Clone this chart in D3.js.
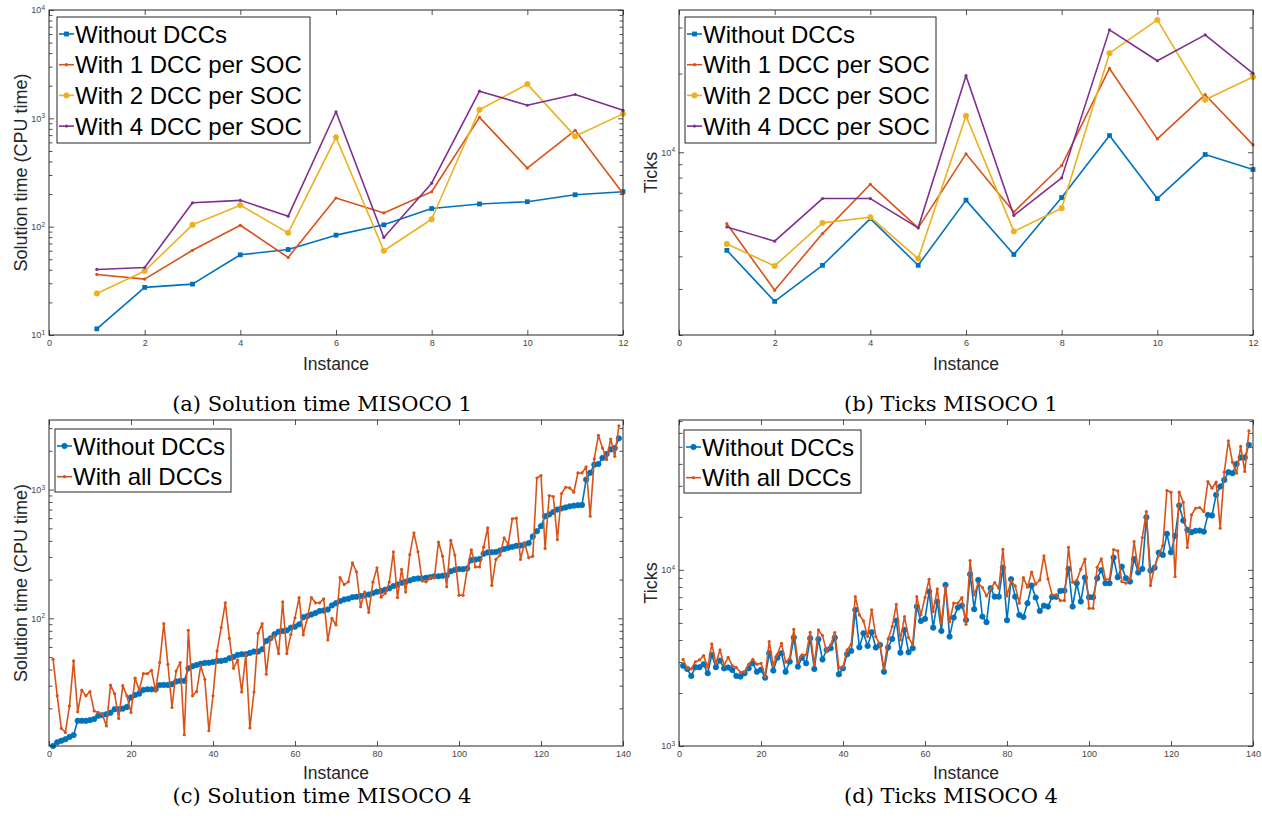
<!DOCTYPE html>
<html>
<head>
<meta charset="utf-8">
<script src="https://cdn.jsdelivr.net/npm/d3@7"></script>
<style>
    body { margin: 0; background: #fff; }
    svg { display: block; }
</style>
</head>
<body>
<script>

// instances of MISOCO 1 and MISOCO 4
var instancesM1 = [1, 2, 3, 4, 5, 6, 7, 8, 9, 10, 11, 12];
var instancesM4 = d3.range(1, 140);

// (a) solution time, MISOCO 1
var timeM1Without = [11.4, 27.5, 29.5, 55, 61.5, 83.5, 104, 147, 162, 170, 197, 210];
var timeM1One = [36.2, 32.8, 60.5, 103, 52, 184, 134, 210, 1020, 347, 775, 202];
var timeM1Two = [24.2, 39, 104, 158, 87.7, 668, 59.9, 117, 1200, 2070, 682, 1100];
var timeM1Four = [40.3, 42, 166, 175, 125, 1150, 79.5, 252, 1780, 1320, 1660, 1185];

// (b) ticks, MISOCO 1
var ticksM1Without = [4215, 2690, 3695, 5570, 3695, 6560, 4065, 6710, 11580, 6650, 9800, 8590];
var ticksM1One = [5330, 2965, 4885, 7540, 5140, 9860, 5905, 8895, 20920, 11250, 16600, 10670];
var ticksM1Two = [4460, 3675, 5370, 5645, 3920, 13780, 4980, 6110, 23930, 32060, 15880, 19400];
var ticksM1Four = [5180, 4570, 6650, 6650, 5140, 19630, 5730, 7980, 29380, 22390, 28120, 20050];

// (c) solution time, MISOCO 4
var timeM4Without = [
    10.2, 10.9, 11.2, 11.5, 12.0, 12.4, 16.0, 16.0, 16.0, 16.2,
    16.5, 17.5, 17.7, 18.0, 18.5, 19.7, 19.7, 19.9, 20.5, 24.3,
    25.4, 26.0, 27.8, 28.1, 28.1, 28.1, 30.3, 30.4, 30.4, 30.8,
    32.3, 32.7, 32.7, 40.9, 42.4, 43.4, 44.4, 45.0, 45.2, 45.8,
    46.7, 46.7, 47.3, 49.0, 50.2, 52.0, 52.6, 52.6, 53.9, 55.2,
    55.2, 57.5, 66.7, 69.9, 75.2, 78.8, 79.7, 80.6, 84.6, 86.2,
    89.8, 102, 104, 107, 110, 114, 115, 117, 126, 131,
    136, 140, 142, 146, 147, 149, 151, 153, 157, 161,
    163, 167, 171, 178, 183, 189, 192, 197, 202, 204,
    204, 207, 209, 212, 212, 214, 215, 232, 238, 241,
    241, 244, 283, 286, 289, 317, 325, 326, 328, 336,
    345, 353, 359, 366, 368, 374, 384, 432, 475, 520,
    620, 640, 670, 700, 714, 726, 741, 750, 755, 759,
    1195, 1350, 1560, 1580, 1760, 1890, 2050, 2100, 2500
];
var timeM4All = [
    48.1, 25.0, 14.0, 13.0, 20.9, 46.7, 18.8, 27.7, 25.0, 27.0,
    19.1, 18.6, 18.0, 14.6, 30.3, 26.0, 16.7, 30.0, 25.0, 18.6,
    34.3, 27.7, 37.2, 37.2, 39.5, 27.3, 45.3, 90.9, 44.0, 20.3,
    39.0, 45.3, 12.5, 80.8, 25.0, 27.0, 42.7, 33.6, 13.4, 25.0,
    55.8, 84.7, 132, 70, 40.9, 47.3, 26.8, 52.0, 14.1, 26.8,
    76.5, 90.9, 36.8, 70, 73, 53.3, 134, 53.3, 75, 101,
    145, 74.3, 101, 145, 132, 132, 142, 67.9, 100, 88.8,
    207, 183, 192, 270, 230, 123, 160, 111, 191, 247,
    146, 156, 191, 329, 145, 240, 160, 313, 461, 329,
    195, 192, 207, 207, 391, 304, 176, 403, 310, 151,
    151, 240, 341, 251, 251, 357, 505, 180, 287, 310,
    422, 375, 593, 600, 287, 386, 295, 304, 1230, 1284,
    349, 898, 882, 409, 931, 1042, 1030, 953, 1346, 1346,
    1500, 621, 1730, 2640, 2100, 1710, 2470, 1813, 3130
];

// (d) ticks, MISOCO 4
var ticksM4Without = [
    2856, 2738, 2500, 2800, 2800, 2910, 2590, 3290, 2800, 3055,
    2760, 2790, 2700, 2500, 2480, 2590, 2760, 2950, 2640, 2710,
    2445, 3365, 2680, 3175, 3365, 2640, 3013, 4128, 2822, 3175,
    2950, 4090, 2738, 4040, 3100, 3510, 3590, 4128, 2553, 2760,
    3318, 3467, 5930, 3638, 4365, 3700, 4425, 3625, 3750, 2640,
    3625, 4056, 5155, 3390, 4560, 3405, 3590, 6190, 5130, 5270,
    7535, 4700, 6600, 4500, 8220, 4180, 5360, 6110, 6270, 5200,
    9440, 5980, 8770, 5430, 5050, 7870, 7050, 7050, 10300, 5180,
    8850, 7050, 5550, 5400, 6470, 8150, 6960, 5850, 6270, 6190,
    7030, 7030, 7600, 7630, 10130, 6190, 8400, 6610, 9040, 7000,
    7000, 8970, 9950, 8400, 8400, 11750, 9080, 10440, 8970, 8590,
    11550, 9660, 10130, 19900, 9910, 10300, 12530, 12160, 16030, 12590,
    15600, 23210, 19060, 16870, 16370, 16660, 16720, 16500, 20540, 20370,
    26680, 29740, 32430, 35880, 35400, 40000, 43450, 43450, 51300
];
var ticksM4All = [
    3100, 2760, 2740, 3010, 3080, 3260, 2800, 3800, 2950, 3510,
    2880, 3190, 2860, 2790, 2620, 2640, 2910, 3100, 2910, 2950,
    2480, 3920, 2880, 3320, 3830, 2990, 3150, 4600, 2990, 3290,
    3290, 4425, 2880, 4560, 4240, 3435, 3750, 4410, 2790, 2790,
    3510, 3780, 7050, 5550, 5130, 4180, 5930, 4180, 3750, 2740,
    4056, 4760, 6380, 4000, 5430, 4130, 3750, 7050, 5550, 6970,
    8850, 5800, 7800, 4980, 8000, 5080, 6470, 6470, 6970, 4910,
    11300, 7210, 8400, 7940, 7120, 7770, 8480, 7870, 13090, 7120,
    8690, 8110, 6470, 9040, 7980, 9710, 8300, 8770, 12010, 8890,
    7210, 7210, 6700, 6700, 13450, 8510, 8690, 10090, 11500, 6050,
    6050, 10350, 11550, 8850, 8850, 13050, 12820, 8590, 8400, 8890,
    14490, 10000, 15280, 21430, 8150, 10440, 12060, 13740, 28240, 27630,
    9160, 27630, 24210, 13400, 20540, 22400, 22590, 21430, 31760, 29100,
    31480, 17260, 35880, 54050, 40930, 35400, 50230, 36230, 61630
];

var labelsM1 = ['Without DCCs', 'With 1 DCC per SOC', 'With 2 DCC per SOC', 'With 4 DCC per SOC'];
var labelsM4 = ['Without DCCs', 'With all DCCs'];
var xTicksM1 = [0, 2, 4, 6, 8, 10, 12];
var xTicksM4 = [0, 20, 40, 60, 80, 100, 120, 140];

var BLUE = '#0072BD', RED = '#D95319', YELLOW = '#EDB120', PURPLE = '#7E2F8E';
var AXIS = '#262626';
var SANS = '"Liberation Sans", Arial, Helvetica, sans-serif';

var svg = d3.select('body').append('svg')
    .attr('width', 1262)
    .attr('height', 826);

svg.append('rect').attr('width', 1262).attr('height', 826).attr('fill', '#fff');

function zip(xs, ys) {
    return xs.map(function(d, i) { return [d, ys[i]]; });
}

function logTicks(domain) {
    var majors = [], minors = [];
    var e0 = Math.floor(Math.log10(domain[0])), e1 = Math.ceil(Math.log10(domain[1]));
    for (var e = e0; e <= e1; e++) {
        for (var k = 1; k <= 9; k++) {
            var v = k * Math.pow(10, e);
            if (v < domain[0] * 0.999 || v > domain[1] * 1.001) continue;
            if (k === 1) majors.push(v); else minors.push(v);
        }
    }
    return { majors: majors, minors: minors };
}

function drawMarker(g, shape, color, cx, cy) {
    if (shape === 'square') {
        g.append('rect')
            .attr('x', cx - 2.4).attr('y', cy - 2.4)
            .attr('width', 4.8).attr('height', 4.8)
            .attr('fill', color);
    } else if (shape === 'circle') {
        g.append('circle')
            .attr('cx', cx).attr('cy', cy).attr('r', 2.7)
            .attr('fill', color).attr('stroke', color).attr('stroke-width', 0.8);
    } else {
        g.append('circle')
            .attr('cx', cx).attr('cy', cy).attr('r', 1.6)
            .attr('fill', color);
    }
}

function styleAxis(sel) {
    sel.select('.domain').remove();
    sel.selectAll('.tick line').attr('stroke', AXIS).attr('stroke-width', 0.8);
    sel.selectAll('.tick text')
        .attr('fill', '#444')
        .style('font-family', SANS)
        .style('font-size', '9px');
}

function drawPanel(p) {
    var w = p.right - p.left, h = p.bottom - p.top;
    var x = d3.scaleLinear().domain(p.xDomain).range([0, w]);
    var y = d3.scaleLog().domain(p.yDomain).range([h, 0]);
    var lt = logTicks(p.yDomain);

    var g = svg.append('g').attr('transform', 'translate(' + p.left + ',' + p.top + ')');

    g.append('g')
        .attr('transform', 'translate(0,' + h + ')')
        .call(d3.axisBottom(x).tickValues(p.xTicks).tickSizeInner(-5).tickSizeOuter(0).tickPadding(5))
        .call(styleAxis);
    g.append('g')
        .call(d3.axisTop(x).tickValues(p.xTicks).tickSizeInner(-5).tickSizeOuter(0).tickFormat(''))
        .call(styleAxis);

    var left = g.append('g')
        .call(d3.axisLeft(y).tickValues(lt.majors).tickSizeInner(-5).tickSizeOuter(0).tickPadding(4))
        .call(styleAxis);
    left.selectAll('.tick text').each(function(d) {
        var t = d3.select(this);
        t.text('10');
        t.append('tspan')
            .attr('dy', '-0.5em')
            .style('font-size', '6.5px')
            .text(Math.round(Math.log10(d)));
    });
    g.append('g')
        .call(d3.axisLeft(y).tickValues(lt.minors).tickSizeInner(-3.5).tickSizeOuter(0).tickFormat(''))
        .call(styleAxis);
    g.append('g')
        .attr('transform', 'translate(' + w + ',0)')
        .call(d3.axisRight(y).tickValues(lt.majors).tickSizeInner(-5).tickSizeOuter(0).tickFormat(''))
        .call(styleAxis);
    g.append('g')
        .attr('transform', 'translate(' + w + ',0)')
        .call(d3.axisRight(y).tickValues(lt.minors).tickSizeInner(-3.5).tickSizeOuter(0).tickFormat(''))
        .call(styleAxis);

    var line = d3.line()
        .x(function(d) { return x(d[0]); })
        .y(function(d) { return y(d[1]); });

    p.series.forEach(function(s) {
        var pts = zip(s.x, s.values);
        g.append('path')
            .datum(pts)
            .attr('d', line)
            .attr('fill', 'none')
            .attr('stroke', s.color)
            .attr('stroke-width', 1.6)
            .attr('stroke-linejoin', 'round');
        var mg = g.append('g');
        pts.forEach(function(d) {
            drawMarker(mg, s.marker, s.color, x(d[0]), y(d[1]));
        });
    });

    g.append('rect')
        .attr('width', w).attr('height', h)
        .attr('fill', 'none')
        .attr('stroke', AXIS)
        .attr('stroke-width', 1);

    // axis titles
    svg.append('text')
        .attr('x', (p.left + p.right) / 2)
        .attr('y', p.bottom + p.xLabelGap)
        .attr('text-anchor', 'middle')
        .attr('fill', AXIS)
        .style('font-family', SANS)
        .style('font-size', '17.5px')
        .text('Instance');
    svg.append('text')
        .attr('transform', 'translate(' + p.yLabelX + ',' + (p.top + h / 2) + ') rotate(-90)')
        .attr('text-anchor', 'middle')
        .attr('fill', AXIS)
        .style('font-family', SANS)
        .style('font-size', '18px')
        .text(p.yLabel);

    // legend
    var L = p.legend;
    var lg = svg.append('g').attr('transform', 'translate(' + L.x + ',' + L.y + ')');
    lg.append('rect')
        .attr('width', L.w).attr('height', L.h)
        .attr('fill', '#fff')
        .attr('stroke', AXIS)
        .attr('stroke-width', 1);
    p.series.forEach(function(s, i) {
        var cy = 17 + i * 30.7;
        lg.append('line')
            .attr('x1', 2).attr('x2', 17)
            .attr('y1', cy).attr('y2', cy)
            .attr('stroke', s.color)
            .attr('stroke-width', 1.6);
        drawMarker(lg, s.marker, s.color, 9.5, cy);
        lg.append('text')
            .attr('x', 18)
            .attr('y', cy + 8.6)
            .attr('fill', '#000')
            .style('font-family', SANS)
            .style('font-size', '24px')
            .text(s.label);
    });

    // caption
    svg.append('text')
        .attr('x', p.captionX)
        .attr('y', p.captionY)
        .attr('text-anchor', 'middle')
        .attr('fill', '#000')
        .style('font-family', '"DejaVu Serif", "Liberation Serif", serif')
        .style('font-size', '21px')
        .text(p.caption);
}

function m1Series(a, b, c, d) {
    return [
        { x: instancesM1, values: a, color: BLUE, marker: 'square', label: labelsM1[0] },
        { x: instancesM1, values: b, color: RED, marker: 'dot', label: labelsM1[1] },
        { x: instancesM1, values: c, color: YELLOW, marker: 'circle', label: labelsM1[2] },
        { x: instancesM1, values: d, color: PURPLE, marker: 'dot', label: labelsM1[3] }
    ];
}

function m4Series(a, b) {
    return [
        { x: instancesM4, values: a, color: BLUE, marker: 'circle', label: labelsM4[0] },
        { x: instancesM4, values: b, color: RED, marker: 'dot', label: labelsM4[1] }
    ];
}

drawPanel({
    left: 49, right: 623, top: 10, bottom: 335,
    xDomain: [0, 12], xTicks: xTicksM1, yDomain: [10, 10000],
    yLabel: 'Solution time (CPU time)', yLabelX: 27, xLabelGap: 35,
    series: m1Series(timeM1Without, timeM1One, timeM1Two, timeM1Four),
    legend: { x: 57, y: 17, w: 253, h: 126 },
    caption: '(a) Solution time MISOCO 1', captionX: 322, captionY: 411
});

drawPanel({
    left: 679, right: 1253, top: 10, bottom: 335,
    xDomain: [0, 12], xTicks: xTicksM1, yDomain: [2000, 35000],
    yLabel: 'Ticks', yLabelX: 657, xLabelGap: 35,
    series: m1Series(ticksM1Without, ticksM1One, ticksM1Two, ticksM1Four),
    legend: { x: 685, y: 17, w: 251, h: 126 },
    caption: '(b) Ticks MISOCO 1', captionX: 951, captionY: 411
});

drawPanel({
    left: 49, right: 623, top: 420, bottom: 746,
    xDomain: [0, 140], xTicks: xTicksM4, yDomain: [10.2, 3470],
    yLabel: 'Solution time (CPU time)', yLabelX: 27, xLabelGap: 33,
    series: m4Series(timeM4Without, timeM4All),
    legend: { x: 55, y: 429, w: 176, h: 63 },
    caption: '(c) Solution time MISOCO 4', captionX: 322, captionY: 803
});

drawPanel({
    left: 679, right: 1253, top: 420, bottom: 746,
    xDomain: [0, 140], xTicks: xTicksM4, yDomain: [1000, 71000],
    yLabel: 'Ticks', yLabelX: 657, xLabelGap: 33,
    series: m4Series(ticksM4Without, ticksM4All),
    legend: { x: 684, y: 430, w: 177, h: 63 },
    caption: '(d) Ticks MISOCO 4', captionX: 951, captionY: 803
});

</script>
</body>
</html>
